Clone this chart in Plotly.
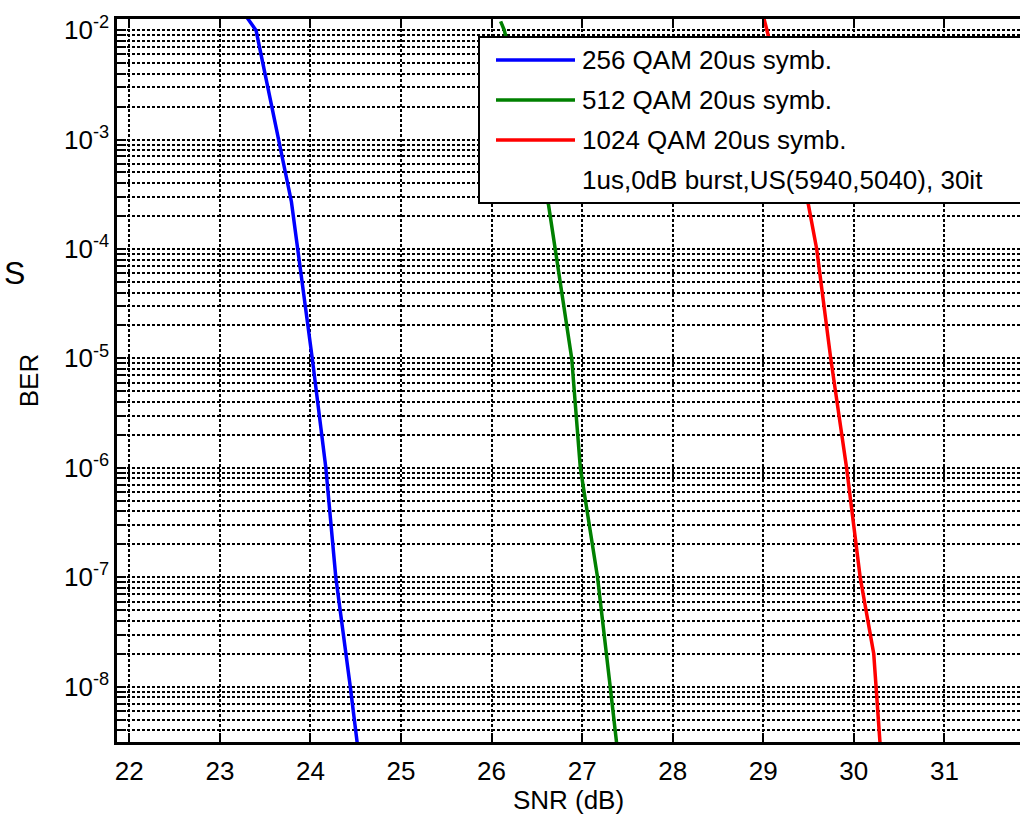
import plotly.graph_objects as go

# ---------------- data ----------------
snr_256 = [23.30, 23.40, 23.79, 24.02, 24.17, 24.28, 24.44, 24.52]
ber_256 = [1.3e-2, 9.9e-3, 2.7e-4, 1.0e-5, 1.0e-6, 1.0e-7, 1.0e-8, 2.9e-9]

snr_512 = [26.10, 26.14, 26.63, 26.70, 26.885, 26.98, 27.17, 27.31, 27.38]
ber_512 = [1.2e-2, 1.0e-2, 2.5e-4, 1.0e-4, 1.0e-5, 1.0e-6, 1.0e-7, 1.0e-8, 3.1e-9]

snr_1024 = [29.00, 29.04, 29.50, 29.59, 29.745, 29.92, 30.07, 30.22, 30.29]
ber_1024 = [1.35e-2, 1.0e-2, 2.5e-4, 1.0e-4, 1.0e-5, 1.0e-6, 1.0e-7, 2.0e-8, 3.0e-9]

series_names = ["256 QAM 20us symb.", "512 QAM 20us symb.", "1024 QAM 20us symb."]
note_text = "1us,0dB burst,US(5940,5040), 30it"
series_colors = ["#0000FF", "#008000", "#FF0000"]

x_tick_vals = [22, 23, 24, 25, 26, 27, 28, 29, 30, 31]
y_exponents = [-8, -7, -6, -5, -4, -3, -2]
y_tick_text = ["10<sup>%d</sup>" % e for e in y_exponents]

# ---------------- layout constants ----------------
W, H = 1020, 815
ML, MR, MT, MB = 117, 0, 19, 73
FONT = "Liberation Sans, Arial, sans-serif"
FS = 26

y_tick_vals = [10.0 ** e for e in y_exponents]
y_minor_vals = [m * 10.0 ** e for e in range(-9, -1) for m in range(2, 10)]

fig = go.Figure()
for xs, ys, name, col in zip([snr_256, snr_512, snr_1024],
                             [ber_256, ber_512, ber_1024],
                             series_names, series_colors):
    fig.add_trace(go.Scatter(x=xs, y=ys, mode="lines", name=name,
                             line=dict(color=col, width=3.5),
                             showlegend=False))

GRID_W = 1.6
GRID_DASH = "3px,2px"
grid_style = dict(showgrid=True, gridcolor="black", gridwidth=GRID_W, griddash=GRID_DASH)

fig.update_xaxes(
    range=[21.864, 31.835], tickmode="array", tickvals=x_tick_vals,
    ticks="inside", ticklen=9, tickwidth=2, tickcolor="black",
    showline=True, linecolor="black", linewidth=2.5, mirror="ticks",
    zeroline=False, tickfont=dict(family=FONT, size=FS, color="black"),
    ticklabelstandoff=4,
    title=dict(text="SNR (dB)", font=dict(family=FONT, size=FS, color="black"), standoff=4),
    **grid_style,
)
fig.update_yaxes(
    type="log", range=[-8.505, -1.899], tickmode="array",
    tickvals=y_tick_vals, ticktext=y_tick_text,
    ticks="inside", ticklen=9, tickwidth=2, tickcolor="black",
    showline=True, linecolor="black", linewidth=2.5, mirror=False,
    zeroline=False, tickfont=dict(family=FONT, size=FS, color="black"),
    ticklabelstandoff=0,
    title=dict(text="BER", font=dict(family=FONT, size=FS, color="black"), standoff=18),
    minor=dict(tickmode="array", tickvals=y_minor_vals, ticks="inside", ticklen=9,
               tickwidth=2, tickcolor="black", showgrid=True, gridcolor="black",
               gridwidth=GRID_W, griddash=GRID_DASH),
    **grid_style,
)

# ---------------- legend (drawn box, samples and text) ----------------
pw = W - ML - MR
ph = H - MT - MB
def px_x(p):
    return (p - ML) / pw
def px_y(p):
    return (H - MB - p) / ph

shapes = [dict(type="rect", xref="paper", yref="paper",
               x0=px_x(479), x1=px_x(1040), y0=px_y(203), y1=px_y(37),
               line=dict(color="black", width=2), fillcolor="white", layer="above")]
annotations = []
row_y = [60, 100, 140, 180]
for i, (name, col) in enumerate(zip(series_names, series_colors)):
    shapes.append(dict(type="line", xref="paper", yref="paper",
                       x0=px_x(496), x1=px_x(575), y0=px_y(row_y[i]), y1=px_y(row_y[i]),
                       line=dict(color=col, width=3.5), layer="above"))
labels = series_names + [note_text]
for i, txt in enumerate(labels):
    annotations.append(dict(xref="paper", yref="paper", x=px_x(580), y=px_y(row_y[i]),
                            text=txt, showarrow=False, xanchor="left", yanchor="middle",
                            font=dict(family=FONT, size=FS, color="black")))

annotations.append(dict(xref="paper", yref="paper", x=px_x(14), y=px_y(273),
                        text="S", showarrow=False, xanchor="center", yanchor="middle",
                        font=dict(family=FONT, size=32, color="black")))

fig.update_layout(
    width=W, height=H,
    margin=dict(l=ML, r=MR, t=MT, b=MB, pad=0),
    paper_bgcolor="white", plot_bgcolor="white",
    font=dict(family=FONT, size=FS, color="black"),
    shapes=shapes, annotations=annotations,
    showlegend=False,
)

fig.write_html(
    "out.html",
    config={"displayModeBar": False},
    post_script="document.body.style.margin='0';document.body.style.padding='0';"
                "document.body.style.overflow='hidden';",
)
